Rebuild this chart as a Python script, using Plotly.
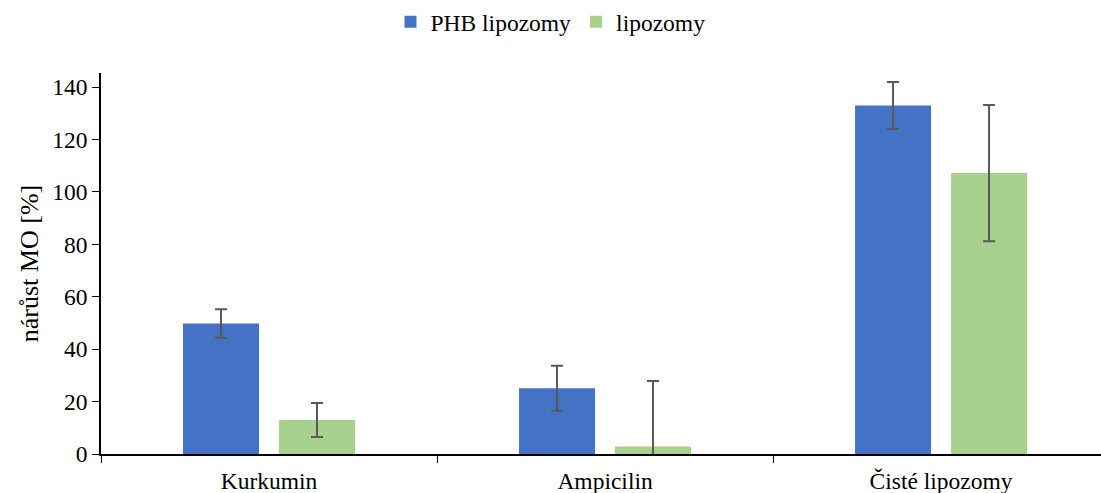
import plotly.graph_objects as go

categories = ["Kurkumin", "Ampicilin", "Čisté lipozomy"]
phb_values = [49.8, 25.1, 133.0]
phb_errors = [5.4, 8.6, 9.0]
lipo_values = [13.0, 2.9, 107.2]
lipo_errors = [6.5, 25.0, 26.0]

font_family = "Times New Roman, Liberation Serif, serif"
err_style = dict(type="data", visible=True, color="#595959", thickness=2, width=6)

fig = go.Figure()
fig.add_trace(go.Bar(
    name="PHB lipozomy", x=categories, y=phb_values,
    marker=dict(color="#4472C4", line=dict(width=0)),
    error_y=dict(array=phb_errors, **err_style),
))
fig.add_trace(go.Bar(
    name="lipozomy", x=categories, y=lipo_values,
    marker=dict(color="#A9D18E", line=dict(width=0)),
    error_y=dict(array=lipo_errors, **err_style),
))

fig.update_layout(
    width=1101, height=493,
    margin=dict(l=101, r=0, t=73, b=39),
    paper_bgcolor="white", plot_bgcolor="white",
    font=dict(family=font_family, size=23, color="#000000"),
    barmode="group", bargap=0.4286, bargroupgap=0.208,
    showlegend=True,
    legend=dict(orientation="h", xref="container", x=0.5, xanchor="center",
                yref="container", y=1.0, yanchor="top",
                font=dict(family=font_family, size=23.5), itemwidth=30),
)
fig.update_xaxes(
    type="category", range=[-0.5, 2.476],
    showline=True, linecolor="#000000", linewidth=1.5,
    ticks="outside", tickson="boundaries", ticklen=7, tickcolor="#000000", tickwidth=1,
    showgrid=False, zeroline=False, ticklabelstandoff=5,
    tickfont=dict(family=font_family, size=23.5),
)
fig.update_yaxes(
    range=[0, 145.4], tickvals=[0, 20, 40, 60, 80, 100, 120, 140],
    showline=True, linecolor="#000000", linewidth=1.5,
    ticks="outside", ticklen=7, tickcolor="#000000", tickwidth=1,
    showgrid=False, zeroline=False,
    tickfont=dict(family=font_family, size=23.5),
    title=dict(text="nárůst MO [%]", standoff=6, font=dict(family=font_family, size=26)),
)

fig.write_html("out.html")
